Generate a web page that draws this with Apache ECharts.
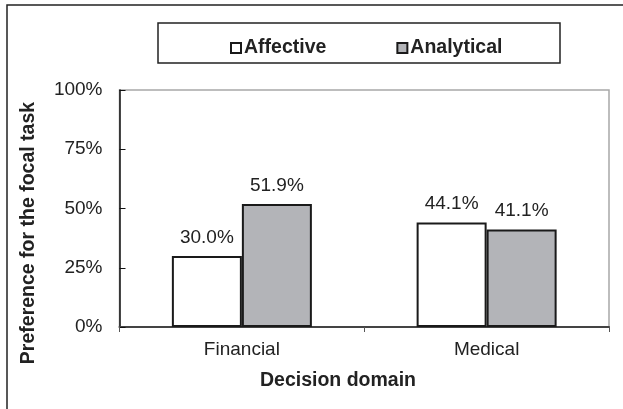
<!DOCTYPE html>
<html>
<head>
<meta charset="utf-8">
<script src="https://cdn.jsdelivr.net/npm/echarts@6/dist/echarts.min.js"></script>
<style>
  html, body { margin: 0; padding: 0; background: #fff; }
  #chart { width: 623px; height: 409px; }
</style>
</head>
<body>
<div id="chart"></div>
<script>
// data
const categories = ['Financial', 'Medical'];
const affective = [30.0, 44.1];
const analytical = [51.9, 41.1];
const yTicks = [0, 25, 50, 75, 100];

const FONT = 'Liberation Sans, Arial, sans-serif';

const chart = echarts.init(document.getElementById('chart'), null, { renderer: 'canvas' });

const barLabel = {
  show: true,
  position: 'top',
  distance: 9,
  color: '#222',
  fontFamily: FONT,
  fontSize: 19,
  formatter: (p) => p.value.toFixed(1) + '%',
};

const option = {
  animation: false,
  backgroundColor: '#fff',
  textStyle: { fontFamily: FONT },
  // outer frame, legend box and the two axis titles
  graphic: [
    {
      type: 'rect',
      shape: { x: 7, y: 5, width: 700, height: 500 },
      style: { fill: 'none', stroke: '#222', lineWidth: 1.5 },
      z: 0,
    },
    {
      type: 'rect',
      shape: { x: 158, y: 23, width: 402, height: 40 },
      style: { fill: '#fff', stroke: '#222', lineWidth: 1.5 },
      z: 0,
    },
    {
      type: 'text',
      x: 29,
      y: 233,
      rotation: Math.PI / 2,
      style: {
        text: 'Preference for the focal task',
        fontFamily: FONT,
        fontSize: 19.5,
        fontWeight: 'bold',
        fill: '#222',
        align: 'center',
        verticalAlign: 'middle',
      },
    },
    {
      type: 'text',
      x: 338,
      y: 381,
      style: {
        text: 'Decision domain',
        fontFamily: FONT,
        fontSize: 19.5,
        fontWeight: 'bold',
        fill: '#222',
        align: 'center',
        verticalAlign: 'middle',
      },
    },
  ],
  legend: {
    left: 225,
    top: 33,
    itemWidth: 10,
    itemHeight: 10,
    itemGap: 70,
    icon: 'rect',
    textStyle: {
      fontFamily: FONT,
      fontSize: 19.5,
      fontWeight: 'bold',
      color: '#222',
      padding: [0, 0, 0, -2],
    },
    z: 5,
  },
  grid: {
    left: 119.5,
    right: 14,
    top: 90,
    bottom: 82,
    show: true,
    borderColor: '#a8a8a8',
    borderWidth: 1.5,
    backgroundColor: '#fff',
  },
  xAxis: {
    type: 'category',
    data: categories,
    axisLine: { lineStyle: { color: '#444', width: 2 } },
    axisTick: { show: true, length: 5, lineStyle: { color: '#555' } },
    axisLabel: { margin: 13, color: '#222', fontSize: 19, fontFamily: FONT },
  },
  yAxis: {
    type: 'value',
    min: yTicks[0],
    max: yTicks[yTicks.length - 1],
    interval: 25,
    axisLine: { show: true, lineStyle: { color: '#111', width: 1.5 } },
    axisTick: { show: true, inside: true, length: 6, lineStyle: { color: '#111' } },
    axisLabel: { margin: 17, color: '#222', fontSize: 19, fontFamily: FONT, formatter: '{value}%' },
    splitLine: { show: false },
  },
  series: [
    {
      name: 'Affective',
      type: 'bar',
      barWidth: 70,
      barGap: '0%',
      data: affective,
      itemStyle: { color: '#fff', borderColor: '#1a1a1a', borderWidth: 2 },
      label: barLabel,
    },
    {
      name: 'Analytical',
      type: 'bar',
      barWidth: 70,
      barGap: '0%',
      data: analytical,
      itemStyle: { color: '#b3b4b8', borderColor: '#1a1a1a', borderWidth: 2 },
      label: barLabel,
    },
  ],
};

chart.setOption(option);
</script>
</body>
</html>
